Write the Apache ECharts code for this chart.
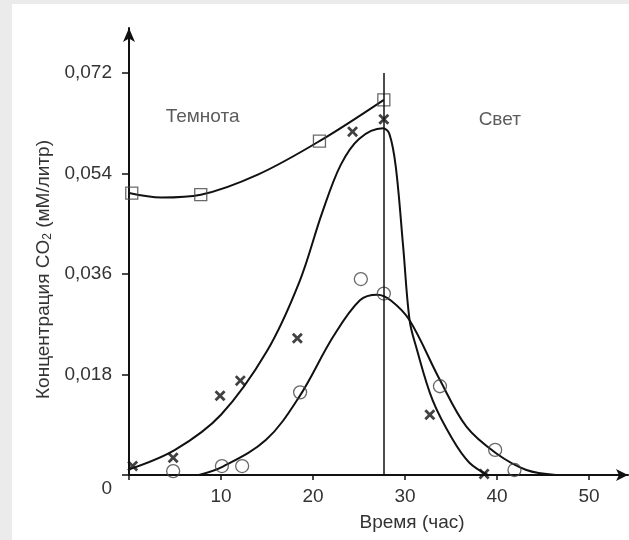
<!DOCTYPE html>
<html><head><meta charset="utf-8">
<script src="https://cdn.jsdelivr.net/npm/echarts@6/dist/echarts.min.js"></script>
<style>
html,body{margin:0;padding:0;background:#ebebeb;width:629px;height:540px;overflow:hidden}
#c{position:absolute;left:12px;top:4px;width:617px;height:536px;background:#fff}
</style></head><body><div id="c"></div>
<script>
// ---- data ----
const xTicks = [0, 10, 20, 30, 40, 50];
const yTicks = [0, 0.018, 0.036, 0.054, 0.072];
const squareX = [0.3, 7.8, 20.7, 27.7];
const squareY = [0.0505, 0.0502, 0.0598, 0.0672];
const crossX = [0.4, 4.8, 9.9, 12.1, 18.3, 24.3, 27.7, 32.7, 38.6];
const crossY = [0.0016, 0.0031, 0.0142, 0.0169, 0.0245, 0.0615, 0.0637, 0.0108, 0.0002];
const circleX = [4.8, 10.1, 12.3, 18.6, 25.2, 27.7, 33.8, 39.8, 41.9];
const circleY = [0.0007, 0.0016, 0.0016, 0.0148, 0.0351, 0.0325, 0.0159, 0.0045, 0.0009];
const squareCurveX = [0, 3.5, 7.8, 14, 20.7, 27.7];
const squareCurveY = [0.0505, 0.0497, 0.0502, 0.0538, 0.0598, 0.0672];
const crossCurveX = [0, 5, 10, 15, 18.5, 21, 23, 25, 27.6, 28.3, 29.0, 29.8, 30.5, 31.2, 33.0, 35.2, 37.0, 39.0];
const crossCurveY = [0.0010, 0.0045, 0.0108, 0.0222, 0.0345, 0.0470, 0.0555, 0.0602, 0.0621, 0.0611, 0.0552, 0.0409, 0.0277, 0.0230, 0.0134, 0.0063, 0.0022, 0];
const circleCurveX = [7.6, 10.2, 14.9, 18.5, 22.2, 25.1, 27.0, 28.5, 30.5, 33.8, 36.7, 39.9, 43.2, 46.4];
const circleCurveY = [0, 0.0015, 0.0063, 0.0140, 0.0248, 0.0313, 0.0323, 0.0312, 0.0277, 0.0170, 0.0086, 0.0039, 0.0009, 0];
const regionNames = ['Темнота', 'Свет'];
const regionX = [8.0, 40.3];
const regionY = [0.0641, 0.0637];
const dividerX = 27.7;
const xName = 'Время (час)';
const yNameParts = ['Концентрация CO', '2', ' (мМ/литр)'];

// ---- build ----
const zip = (xs, ys) => xs.map((x, i) => [x, ys[i]]);
const FONT = "'Liberation Sans', Arial, sans-serif";
const FS = 19;
const TXT = '#333';
const INK = '#111';
const crossPath = 'path://M0,1.8 L1.8,0 L5,3.2 L8.2,0 L10,1.8 L6.8,5 L10,8.2 L8.2,10 L5,6.8 L1.8,10 L0,8.2 L3.2,5 Z';

const chart = echarts.init(document.getElementById('c'), null, {renderer: 'canvas'});
const onB = {xAxisIndex: 1, yAxisIndex: 1};
const curve = (d) => Object.assign({
  type: 'line', data: d, smooth: 0.35, symbol: 'none', clip: false,
  lineStyle: {color: INK, width: 2}, z: 3, silent: true
}, onB);

chart.setOption({
  animation: false,
  textStyle: {fontFamily: FONT},
  grid: [
    {left: 117, right: 1, top: 24, bottom: 65},
    {left: 117, right: 40, top: 69, bottom: 65}
  ],
  xAxis: [
    {type: 'value', gridIndex: 0, min: 0, max: 54.2,
     axisLine: {show: true, onZero: false, symbol: ['none', 'arrow'], symbolSize: [9, 12], lineStyle: {color: INK, width: 2}},
     axisTick: {show: false}, axisLabel: {show: false}, splitLine: {show: false}},
    {type: 'value', gridIndex: 1, min: xTicks[0], max: xTicks[xTicks.length - 1], interval: 10,
     axisLine: {show: false},
     axisTick: {show: true, length: 5, lineStyle: {color: INK, width: 1.5}},
     axisLabel: {color: TXT, fontSize: FS, fontFamily: FONT, margin: 12,
       formatter: v => (v === 0 ? '' : String(v))},
     splitLine: {show: false},
     name: xName, nameLocation: 'middle', nameGap: 38,
     nameTextStyle: {color: TXT, fontSize: FS, fontFamily: FONT, padding: [0, 0, 0, 106]}}
  ],
  yAxis: [
    {type: 'value', gridIndex: 0, min: 0, max: 0.080,
     axisLine: {show: true, onZero: false, symbol: ['none', 'arrow'], symbolSize: [9, 14], lineStyle: {color: INK, width: 2}},
     axisTick: {show: false}, axisLabel: {show: false}, splitLine: {show: false}},
    {type: 'value', gridIndex: 1, min: yTicks[0], max: yTicks[yTicks.length - 1], interval: 0.018,
     axisLine: {show: false},
     axisTick: {show: true, length: 7, lineStyle: {color: INK, width: 1.5}},
     axisLabel: {color: TXT, fontSize: FS, fontFamily: FONT, margin: 17,
       formatter: v => (v === 0 ? '{z|0}' : v.toFixed(3).replace('.', ',')),
       rich: {z: {fontSize: FS, fontFamily: FONT, color: TXT, padding: [28, 0, 0, 0]}}},
     splitLine: {show: false},
     name: '{a|' + yNameParts[0] + '}{s|' + yNameParts[1] + '}{a|' + yNameParts[2] + '}',
     nameLocation: 'middle', nameGap: 75, nameRotate: 90,
     nameTextStyle: {color: TXT, fontFamily: FONT, padding: [0, 0, 0, 9],
       rich: {a: {fontSize: FS, fontFamily: FONT, color: TXT},
              s: {fontSize: 12, fontFamily: FONT, color: TXT, verticalAlign: 'bottom', padding: [7, 0, 0, 0]}}}}
  ],
  series: [
    curve(zip(squareCurveX, squareCurveY)),
    curve(zip(crossCurveX, crossCurveY)),
    curve(zip(circleCurveX, circleCurveY)),
    Object.assign({type: 'scatter', data: zip(squareX, squareY), symbol: 'rect', symbolSize: 12, clip: false, z: 4,
      itemStyle: {color: 'rgba(255,255,255,0)', borderColor: '#444', borderWidth: 1.3}}, onB),
    Object.assign({type: 'scatter', data: zip(circleX, circleY), symbol: 'circle', symbolSize: 13, clip: false, z: 4,
      itemStyle: {color: 'rgba(255,255,255,0)', borderColor: '#444', borderWidth: 1.3}}, onB),
    Object.assign({type: 'scatter', data: zip(crossX, crossY), symbol: crossPath, symbolSize: 11, clip: false, z: 5,
      itemStyle: {color: INK}}, onB),
    Object.assign({type: 'scatter', symbolSize: 0, clip: false, z: 6,
      data: regionNames.map((n, i) => ({name: n, value: [regionX[i], regionY[i]]})),
      label: {show: true, position: 'inside', formatter: p => p.name, color: TXT, fontSize: FS, fontFamily: FONT},
      markLine: {silent: true, symbol: ['none', 'none'], label: {show: false},
        lineStyle: {color: INK, width: 1.5, type: 'solid'},
        data: [[{coord: [dividerX, yTicks[0]]}, {coord: [dividerX, yTicks[yTicks.length - 1]]}]]}}, onB)
  ]
});
</script></body></html>
